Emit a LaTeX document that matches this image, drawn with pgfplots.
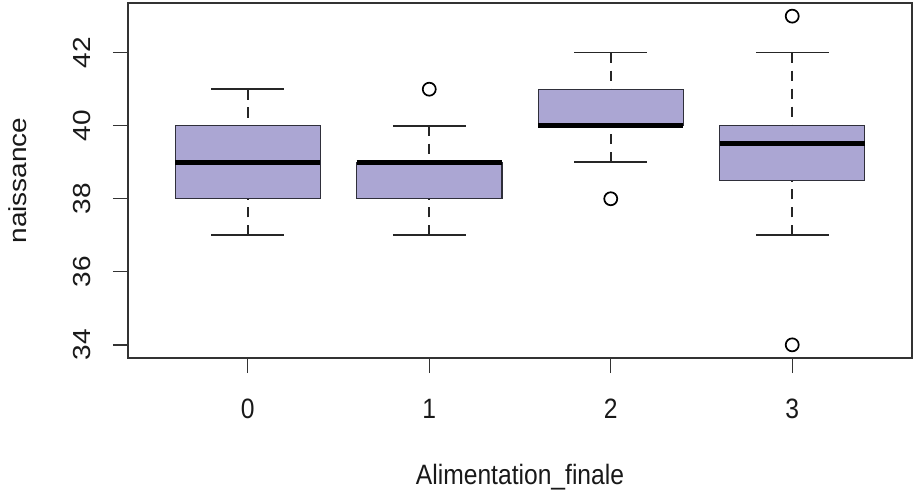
\documentclass[border=0pt]{standalone}
\usepackage{pgfplots}
\pgfplotsset{compat=1.18}
\usepgfplotslibrary{statistics}
\usepackage{fontspec}
\setmainfont{Liberation Sans}
\definecolor{boxfill}{HTML}{ABA6D3}
\definecolor{boxline}{HTML}{2F2F3A}
\newcommand{\sqx}[1]{\scalebox{0.88}[1]{#1}}
\newcommand{\sqy}[1]{\scalebox{1}[0.88]{#1}}
\pgfplotsset{
  boxplot/draw direction=y,
  boxplot/box extend=0.8,
  boxplot/whisker extend=0.4,
  boxplot/draw/box/.code={%
    \draw[fill=boxfill, draw=boxline, line width=1.3bp]
      (boxplot box cs:\pgfplotsboxplotvalue{lower quartile},0) rectangle
      (boxplot box cs:\pgfplotsboxplotvalue{upper quartile},1);},
  boxplot/draw/median/.code={%
    \draw[black, line width=5bp]
      (boxplot box cs:\pgfplotsboxplotvalue{median},0) --
      (boxplot box cs:\pgfplotsboxplotvalue{median},1);},
  boxplot/draw/lower whisker/.code={%
    \draw[black!85, line width=1.6bp, dash pattern=on 10.5bp off 7.5bp]
      (boxplot cs:\pgfplotsboxplotvalue{lower whisker}) --
      (boxplot cs:\pgfplotsboxplotvalue{lower quartile});
    \draw[black!85, line width=1.6bp]
      (boxplot whisker cs:\pgfplotsboxplotvalue{lower whisker},0) --
      (boxplot whisker cs:\pgfplotsboxplotvalue{lower whisker},1);},
  boxplot/draw/upper whisker/.code={%
    \draw[black!85, line width=1.6bp, dash pattern=on 10.5bp off 7.5bp]
      (boxplot cs:\pgfplotsboxplotvalue{upper whisker}) --
      (boxplot cs:\pgfplotsboxplotvalue{upper quartile});
    \draw[black!85, line width=1.6bp]
      (boxplot whisker cs:\pgfplotsboxplotvalue{upper whisker},0) --
      (boxplot whisker cs:\pgfplotsboxplotvalue{upper whisker},1);},
}
\begin{document}
\begin{tikzpicture}
\begin{axis}[
  scale only axis, width=784bp, height=355bp,
  xmin=-0.66, xmax=3.66, ymin=33.64, ymax=43.36,
  axis line style={line width=1.3bp, black!80},
  xtick={0,1,2,3}, xticklabels={\sqx{0},\sqx{1},\sqx{2},\sqx{3}},
  ytick={34,36,38,40,42}, yticklabels={\sqy{34},\sqy{36},\sqy{38},\sqy{40},\sqy{42}},
  tick align=outside, major tick length=15bp, xtick pos=bottom, ytick pos=left,
  tick style={line width=1.3bp, black!80},
  every tick label/.append style={font=\fontsize{28bp}{30bp}\selectfont, text=black!90},
  xticklabel style={anchor=north, inner ysep=26bp, inner xsep=0pt},
  yticklabel style={rotate=90, anchor=south, inner ysep=22bp, inner xsep=0pt},
  xlabel={\sqx{Alimentation\_finale}},
  ylabel={\sqy{naissance}},
  every axis x label/.style={at={(axis description cs:0.5,-0.3577)}, anchor=base,
    font=\fontsize{28bp}{30bp}\selectfont, text=black!90},
  every axis y label/.style={at={(axis description cs:-0.1301,0.5)}, anchor=base, rotate=90,
    font=\fontsize{28bp}{30bp}\selectfont, text=black!90},
]
\addplot[boxplot prepared={draw position=0, lower whisker=37, lower quartile=38,
  median=39, upper quartile=40, upper whisker=41},
  mark=o, mark size=6.5bp, mark options={line width=1.7bp, black}] coordinates {};
\addplot[boxplot prepared={draw position=1, lower whisker=37, lower quartile=38,
  median=39, upper quartile=39, upper whisker=40},
  mark=o, mark size=6.5bp, mark options={line width=1.7bp, black}] coordinates {(1,41)};
\addplot[boxplot prepared={draw position=2, lower whisker=39, lower quartile=40,
  median=40, upper quartile=41, upper whisker=42},
  mark=o, mark size=6.5bp, mark options={line width=1.7bp, black}] coordinates {(2,38)};
\addplot[boxplot prepared={draw position=3, lower whisker=37, lower quartile=38.5,
  median=39.5, upper quartile=40, upper whisker=42},
  mark=o, mark size=6.5bp, mark options={line width=1.7bp, black}] coordinates {(3,43) (3,34)};
\end{axis}
\pgfresetboundingbox
\path[use as bounding box] (-128bp,-133bp) rectangle (786bp,358bp);
\end{tikzpicture}
\end{document}
